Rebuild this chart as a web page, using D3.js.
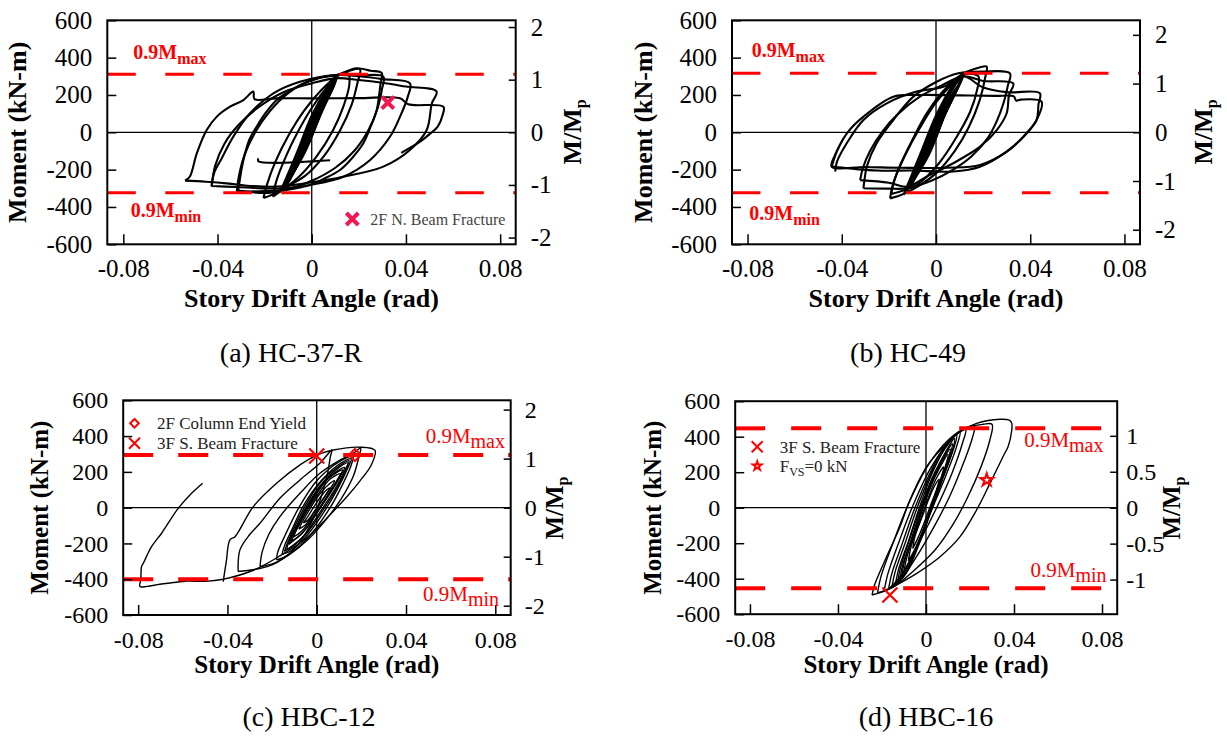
<!DOCTYPE html>
<html>
<head>
<meta charset="utf-8">
<script src="https://cdn.jsdelivr.net/npm/d3@7"></script>
<style>
  body { margin: 0; background: #fff; }
  svg { display: block; font-family: 'Liberation Serif', 'DejaVu Serif', serif; }
  svg text { font-family: 'Liberation Serif', 'DejaVu Serif', serif; }
</style>
</head>
<body>
<svg id="chart" width="1227" height="738"></svg>
<script>
// ---- data -------------------------------------------------------------
const driftTicks = [-0.08, -0.04, 0, 0.04, 0.08];
const driftLabels = ["-0.08", "-0.04", "0", "0.04", "0.08"];
const momentTicks = [-600, -400, -200, 0, 200, 400, 600];
const ratioTicks = [-2, -1, 0, 1, 2];
const ratioTicksD = [-1, -0.5, 0, 0.5, 1];
const captions = ["(a) HC-37-R", "(b) HC-49", "(c) HBC-12", "(d) HBC-16"];
const mpValues = [282, 261, 274, 405];      // kN-m for M/Mp = 1
const limitMax = [311, 316, 294, 447];      // 0.9Mmax (kN-m)
const limitMin = [-324, -324, -400, -454];  // 0.9Mmin (kN-m)

// hysteresis loops, [story drift angle (rad), moment (kN-m)]
const loopsA = [
  [[-0.0045,-120],[-0.003,-75],[0.0,15],[0.003,95],[0.0045,125],[0.003,80],[0.0,-10],[-0.003,-90],[-0.0045,-120]],
  [[-0.0065,-175],[-0.0045,-110],[-0.001,0],[0.003,110],[0.0065,185],[0.0045,125],[0.001,15],[-0.003,-100],[-0.0065,-175]],
  [[-0.007,-200],[-0.005,-140],[-0.002,-45],[0.002,70],[0.0075,215],[0.0055,150],[0.0015,35],[-0.0025,-80],[-0.007,-200]],
  [[-0.0085,-230],[-0.006,-150],[-0.002,-20],[0.003,125],[0.0085,240],[0.006,170],[0.002,50],[-0.003,-95],[-0.0085,-230]],
  [[-0.0095,-260],[-0.007,-175],[-0.0025,-35],[0.0025,115],[0.0095,280],[0.007,200],[0.0025,70],[-0.0035,-110],[-0.0095,-260]],
  [[-0.0105,-280],[-0.0075,-185],[-0.003,-40],[0.003,140],[0.0105,300],[0.008,225],[0.003,80],[-0.003,-100],[-0.0105,-280]],
  [[-0.012,-300],[-0.009,-210],[-0.004,-60],[0.002,120],[0.0106,307],[0.008,230],[0.003,90],[-0.004,-120],[-0.012,-300]],
  [[-0.0125,-312],[-0.0095,-220],[-0.005,-80],[0.001,100],[0.0065,230],[0.011,310],[0.0085,225],[0.004,100],[-0.003,-110],[-0.0125,-312]],
  [[-0.0115,-305],[-0.008,-200],[-0.003,-50],[0.003,130],[0.0095,290],[0.0075,215],[0.002,60],[-0.0045,-130],[-0.0115,-305]],
  [[-0.0135,-320],[-0.0105,-235],[-0.006,-100],[0.0,90],[0.006,225],[0.0108,305],[0.0095,250],[0.005,135],[-0.002,-70],[-0.0135,-320]],
  [[-0.0205,-352],[-0.019,-280],[-0.0155,-160],[-0.01,-20],[-0.003,120],[0.004,225],[0.0106,300],[0.016,330],[0.0205,338],[0.0195,270],[0.017,150],[0.012,10],[0.005,-130],[-0.003,-235],[-0.012,-300],[-0.017,-335],[-0.0205,-352]],
  [[-0.0165,-345],[-0.015,-260],[-0.011,-130],[-0.006,0],[0.0,130],[0.006,235],[0.0106,300],[0.0155,315],[0.016,260],[0.0135,140],[0.009,10],[0.002,-130],[-0.006,-245],[-0.0165,-345]],
  [[-0.0312,-312],[-0.0305,-250],[-0.029,-148],[-0.0265,-40],[-0.0234,30],[-0.0195,105],[-0.0149,173],[-0.01,215],[-0.005,253],[0.003,290],[0.0106,307],[0.019,343],[0.025,330],[0.0297,318],[0.0292,260],[0.0276,120],[0.025,30],[0.0219,-59],[0.017,-140],[0.012,-202],[0.005,-250],[-0.0007,-282],[-0.0106,-309],[-0.02,-325],[-0.0312,-312]],
  [[-0.0318,-318],[-0.031,-240],[-0.0285,-120],[-0.024,0],[-0.018,110],[-0.01,210],[0.0,280],[0.0106,307],[0.02,305],[0.0304,298],[0.0298,230],[0.028,130],[0.024,10],[0.018,-100],[0.01,-190],[0.0,-260],[-0.0106,-305],[-0.02,-315],[-0.0318,-318]],
  [[-0.0425,-291],[-0.0415,-220],[-0.0382,-139],[-0.0333,-23],[-0.0262,102],[-0.0163,209],[-0.005,271],[0.0106,307],[0.02,300],[0.03,285],[0.0417,262],[0.0408,191],[0.0375,84],[0.0332,-24],[0.0248,-148],[0.0134,-238],[-0.0007,-282],[-0.012,-300],[-0.022,-300],[-0.032,-293],[-0.0425,-288]],
  [[-0.0425,-288],[-0.041,-180],[-0.037,-60],[-0.031,40],[-0.022,140],[-0.012,215],[0.0,262],[0.0106,290],[0.02,280],[0.03,265],[0.04,245],[0.053,218],[0.051,155],[0.0488,12],[0.0417,-95],[0.0304,-184],[0.0134,-238],[0.0,-268],[-0.0149,-291],[-0.025,-288],[-0.035,-275],[-0.045,-265],[-0.0538,-259]],
  [[-0.0538,-259],[-0.0518,-238],[-0.0488,-113],[-0.0446,12],[-0.0403,84],[-0.0347,137],[-0.029,173],[-0.0248,218],[-0.0243,178],[-0.015,182],[0.0,182],[0.02,183],[0.0375,182],[0.041,150],[0.0559,137],[0.0555,90],[0.0535,30],[0.0505,-5],[0.046,-50],[0.038,-110]],
  [[0.0078,-150],[-0.0227,-155],[-0.0227,-140]]
];

const loopsB = [
  [[-0.0045,-125],[-0.003,-80],[0.0,10],[0.003,95],[0.0045,125],[0.003,80],[0.0,-15],[-0.003,-95],[-0.0045,-125]],
  [[-0.007,-190],[-0.005,-125],[-0.001,-5],[0.003,110],[0.0068,185],[0.0045,125],[0.001,20],[-0.003,-105],[-0.007,-190]],
  [[-0.0082,-225],[-0.006,-150],[-0.0025,-45],[0.002,90],[0.0078,215],[0.0058,155],[0.0015,40],[-0.003,-95],[-0.0082,-225]],
  [[-0.0095,-255],[-0.007,-175],[-0.002,-30],[0.003,120],[0.009,245],[0.0065,175],[0.002,50],[-0.003,-110],[-0.0095,-255]],
  [[-0.0125,-315],[-0.009,-215],[-0.004,-60],[0.002,120],[0.0116,316],[0.009,235],[0.003,85],[-0.004,-130],[-0.0125,-315]],
  [[-0.0132,-327],[-0.01,-230],[-0.005,-80],[0.001,100],[0.0065,230],[0.0116,316],[0.009,230],[0.004,100],[-0.003,-120],[-0.0132,-327]],
  [[-0.011,-300],[-0.008,-200],[-0.003,-50],[0.003,140],[0.0105,300],[0.0085,220],[0.002,50],[-0.005,-140],[-0.011,-300]],
  [[-0.0138,-335],[-0.011,-250],[-0.0065,-110],[0.0,90],[0.0065,240],[0.012,318],[0.01,255],[0.005,130],[-0.002,-80],[-0.0138,-335]],
  [[-0.0195,-354],[-0.0185,-290],[-0.015,-170],[-0.01,-40],[-0.004,100],[0.003,220],[0.0116,316],[0.0165,340],[0.0215,352],[0.021,300],[0.0185,170],[0.014,30],[0.008,-100],[0.0,-220],[-0.0132,-327],[-0.0195,-354]],
  [[-0.019,-330],[-0.0175,-250],[-0.013,-120],[-0.007,20],[0.0,160],[0.007,260],[0.0116,310],[0.018,300],[0.0175,230],[0.0145,110],[0.009,-20],[0.001,-170],[-0.008,-280],[-0.019,-330]],
  [[-0.0308,-300],[-0.0303,-250],[-0.0294,-184],[-0.0252,-59],[-0.0181,66],[-0.0096,191],[0.0003,271],[0.0095,316],[0.02,325],[0.0314,316],[0.0305,250],[0.0285,150],[0.0258,60],[0.022,-30],[0.015,-130],[0.0073,-200],[-0.002,-260],[-0.0124,-300],[-0.02,-302],[-0.0308,-300]],
  [[-0.0322,-256],[-0.031,-190],[-0.028,-100],[-0.023,0],[-0.016,100],[-0.007,190],[0.003,255],[0.0116,300],[0.02,275],[0.0328,262],[0.031,200],[0.03,102],[0.0258,12],[0.0187,-77],[0.0073,-166],[-0.004,-238],[-0.0124,-292],[-0.02,-270],[-0.0322,-256]],
  [[-0.0428,-211],[-0.0421,-160],[-0.0379,-59],[-0.0308,66],[-0.0209,155],[-0.0082,218],[0.0031,244],[0.0116,300],[0.02,240],[0.03,215],[0.0441,209],[0.0435,150],[0.0427,66],[0.0385,-5],[0.03,-104],[0.0187,-184],[0.0073,-210],[-0.01,-205],[-0.025,-205],[-0.0443,-184]],
  [[-0.0443,-184],[-0.042,-100],[-0.0375,0],[-0.0308,84],[-0.0181,191],[-0.0068,200],[0.01,198],[0.025,195],[0.033,192],[0.034,170],[0.036,175],[0.0448,164],[0.0427,66],[0.0385,-5],[0.03,-104],[0.0187,-175],[0.005,-190],[-0.015,-190],[-0.03,-186],[-0.0443,-184],[-0.0428,-120],[-0.0393,-32]]
];

const loopsC = [
  [[-0.006,-85],[-0.004,-50],[-0.001,10],[0.002,65],[0.0045,100],[0.006,110],[0.0045,80],[0.002,35],[-0.001,-20],[-0.004,-70],[-0.006,-85]],
  [[-0.008,-120],[-0.0065,-80],[-0.003,-5],[0.001,70],[0.005,125],[0.008,150],[0.0065,115],[0.003,50],[-0.001,-25],[-0.005,-95],[-0.008,-120]],
  [[-0.0105,-165],[-0.009,-120],[-0.005,-30],[0.0,65],[0.006,160],[0.0105,190],[0.009,150],[0.004,50],[-0.001,-40],[-0.007,-135],[-0.0105,-165]],
  [[-0.0115,-190],[-0.0095,-135],[-0.006,-50],[-0.001,60],[0.005,160],[0.0115,210],[0.01,170],[0.005,70],[-0.001,-50],[-0.007,-150],[-0.0115,-190]],
  [[-0.0125,-205],[-0.011,-160],[-0.007,-60],[-0.002,50],[0.005,165],[0.0125,225],[0.011,185],[0.006,80],[0.0,-30],[-0.006,-135],[-0.0125,-205]],
  [[-0.0135,-236],[-0.0125,-190],[-0.009,-100],[-0.004,20],[0.003,145],[0.01,225],[0.014,250],[0.0125,205],[0.008,100],[0.002,-15],[-0.005,-145],[-0.011,-220],[-0.0135,-236]],
  [[-0.0145,-245],[-0.013,-195],[-0.0095,-95],[-0.004,35],[0.003,160],[0.0145,262],[0.013,215],[0.009,110],[0.003,-10],[-0.005,-150],[-0.0145,-245]],
  [[-0.0155,-260],[-0.0145,-215],[-0.011,-120],[-0.006,10],[0.002,150],[0.011,250],[0.0155,272],[0.014,225],[0.01,120],[0.004,-10],[-0.004,-150],[-0.012,-245],[-0.0155,-260]],
  [[-0.018,-292],[-0.0175,-250],[-0.014,-150],[-0.008,0],[0.0,150],[0.008,240],[0.0135,280],[0.0164,290],[0.0155,240],[0.012,140],[0.006,0],[-0.002,-140],[-0.01,-240],[-0.015,-280],[-0.018,-292]],
  [[-0.0254,-330],[-0.0245,-250],[-0.0215,-150],[-0.0165,-50],[-0.0075,80],[0.0014,192],[0.0104,266],[0.0164,304],[0.0197,332],[0.019,290],[0.0165,180],[0.011,50],[0.004,-70],[-0.004,-180],[-0.012,-260],[-0.019,-310],[-0.0254,-330]],
  [[-0.0352,-357],[-0.0344,-236],[-0.03,-150],[-0.0254,-87],[-0.0165,53],[-0.0075,155],[0.0014,248],[0.0068,322],[0.0061,285],[0.005,200],[0.002,60],[-0.003,-100],[-0.01,-230],[-0.02,-320],[-0.0352,-357]],
  [[-0.0419,-413],[-0.0405,-300],[-0.0389,-180],[-0.0366,-162],[-0.0284,6],[-0.018,136],[-0.0075,239],[0.0,294],[0.0074,322],[0.0194,338],[0.0261,320],[0.0245,240],[0.0194,150],[0.0134,60],[0.0044,-60],[-0.0045,-170],[-0.0165,-270],[-0.0284,-350],[-0.0419,-400],[-0.05,-412],[-0.058,-410],[-0.065,-420],[-0.0703,-428],[-0.076,-440],[-0.0792,-441],[-0.0788,-400],[-0.0785,-330],[-0.0777,-311],[-0.074,-218],[-0.0695,-143],[-0.062,-3],[-0.0568,71],[-0.0511,136]]
];

const loopsD = [
  [[-0.006,-230],[-0.005,-160],[-0.002,-60],[0.001,40],[0.004,125],[0.006,160],[0.005,110],[0.002,10],[-0.001,-90],[-0.004,-180],[-0.006,-230]],
  [[-0.008,-300],[-0.0068,-220],[-0.0035,-100],[0.0,20],[0.0045,160],[0.008,230],[0.0068,165],[0.0035,50],[0.0,-80],[-0.0045,-220],[-0.008,-300]],
  [[-0.010,-360],[-0.0085,-270],[-0.005,-140],[-0.001,10],[0.004,170],[0.010,300],[0.0085,220],[0.005,100],[0.001,-50],[-0.004,-210],[-0.010,-360]],
  [[-0.011,-385],[-0.0095,-290],[-0.0055,-150],[-0.0015,5],[0.004,180],[0.011,330],[0.0095,250],[0.0055,120],[0.0015,-40],[-0.004,-215],[-0.011,-385]],
  [[-0.012,-410],[-0.0105,-320],[-0.0065,-170],[-0.002,0],[0.004,190],[0.012,360],[0.0105,280],[0.0065,140],[0.002,-20],[-0.004,-220],[-0.012,-410]],
  [[-0.013,-425],[-0.0115,-335],[-0.0075,-180],[-0.0025,0],[0.004,200],[0.013,390],[0.0115,300],[0.0075,160],[0.0025,-10],[-0.0035,-210],[-0.013,-425]],
  [[-0.014,-440],[-0.0125,-350],[-0.008,-190],[-0.003,0],[0.003,200],[0.009,340],[0.014,410],[0.0125,330],[0.008,180],[0.003,10],[-0.003,-200],[-0.009,-370],[-0.014,-440]],
  [[-0.0155,-450],[-0.014,-360],[-0.0095,-200],[-0.004,0],[0.003,210],[0.01,360],[0.0155,430],[0.0138,340],[0.009,180],[0.003,0],[-0.004,-220],[-0.01,-380],[-0.0155,-450]],
  [[-0.017,-460],[-0.0155,-370],[-0.011,-210],[-0.005,0],[0.002,200],[0.01,370],[0.018,440],[0.0165,360],[0.012,200],[0.006,30],[-0.002,-170],[-0.01,-360],[-0.017,-460]],
  [[-0.019,-470],[-0.0175,-380],[-0.0125,-200],[-0.006,10],[0.002,220],[0.011,380],[0.017,440],[0.022,460],[0.021,390],[0.017,250],[0.011,70],[0.004,-100],[-0.004,-270],[-0.012,-410],[-0.019,-470]],
  [[-0.022,-480],[-0.0205,-390],[-0.015,-200],[-0.008,20],[0.001,240],[0.01,380],[0.018,450],[0.026,470],[0.03,470],[0.029,380],[0.025,230],[0.019,60],[0.012,-100],[0.004,-240],[-0.006,-360],[-0.014,-440],[-0.022,-480]],
  [[-0.0245,-492],[-0.0235,-440],[-0.0179,-276],[-0.0118,-107],[-0.0073,43],[0.0003,231],[0.0079,344],[0.0155,428],[0.023,475],[0.0336,498],[0.038,492],[0.039,475],[0.039,438],[0.0373,344],[0.0355,300],[0.0291,137],[0.023,-13],[0.0155,-163],[0.0064,-276],[-0.0042,-370],[-0.0133,-435],[-0.0194,-473],[-0.0245,-492]]
];

// event markers in the plots
const markersA = [{kind: "x", drift: 0.0323, moment: 159}];
const markersC = [{kind: "x", drift: 0.0, moment: 289}, {kind: "diamond", drift: 0.0171, moment: 294}];
const markersD = [{kind: "x", drift: -0.0164, moment: -492}, {kind: "star", drift: 0.0276, moment: 156}];

const legendA = [{kind: "x", label: "2F N. Beam Fracture"}];
const legendC = [{kind: "diamond", label: "2F Column End Yield"}, {kind: "x", label: "3F S. Beam Fracture"}];
const legendD = [{kind: "x", label: "3F S. Beam Fracture"}, {kind: "star", label: "F", sub: "VS", rest: "=0 kN"}];

// ---- layout -----------------------------------------------------------
const FONT = "Liberation Serif, DejaVu Serif, serif";
const RED = "#ff0000";

const panels = [
  { box: [107.3, 20.3, 515.7, 244.3], xdom: [-0.0868, 0.0866], rticks: ratioTicks,
    loops: loopsA, markers: markersA, legend: legendA, legendPos: [352.3, 219, 20], mcolor: "#f2174f",
    tick: 25, title: 26, lw: 2.1, dash: "28.5,29.5", dashW: 3, boldLimit: true,
    maxLab: [133.3, 59.3, "start"], minLab: [130.7, 216.7, "start"],
    ytitle: [26, 132.3], xtitle: [311.5, 307], rtitle: [581, 132], rpad: 15, bpad: 15, cap: [291, 362] },
  { box: [732, 20.3, 1140, 244.3], xdom: [-0.0866, 0.0866], rticks: ratioTicks,
    loops: loopsB, markers: [], legend: [], mcolor: RED,
    tick: 25, title: 26, lw: 2.1, dash: "28.5,29.5", dashW: 3, boldLimit: true,
    maxLab: [751.7, 56.7, "start"], minLab: [749.3, 220, "start"],
    ytitle: [652, 132.3], xtitle: [936, 307], rtitle: [1212, 132], rpad: 15, bpad: 15, cap: [908, 362] },
  { box: [123.2, 400.3, 510.7, 615], xdom: [-0.0867, 0.0869], rticks: ratioTicks,
    loops: loopsC, markers: markersC, legend: legendC, legendPos: [134.5, 423.3, 20], mcolor: RED,
    tick: 24, title: 25, lw: 1.4, dash: "30,25", dashW: 4, boldLimit: false,
    maxLab: [505, 443.3, "end"], minLab: [499, 600.7, "end"],
    ytitle: [48, 507.7], xtitle: [316.8, 673], rtitle: [563, 508], rpad: 14, bpad: 16, cap: [309, 726] },
  { box: [735.2, 401.2, 1117.2, 614.2], xdom: [-0.0867, 0.0869], rticks: ratioTicksD,
    loops: loopsD, markers: markersD, legend: legendD, legendPos: [757.2, 446.7, 19.3], mcolor: RED,
    tick: 24, title: 25, lw: 1.4, dash: "30,26", dashW: 4, boldLimit: false,
    maxLab: [1103.5, 446.7, "end"], minLab: [1106.5, 576.7, "end"],
    ytitle: [661, 507.7], xtitle: [926, 673], rtitle: [1180, 508], rpad: 9, bpad: 16, cap: [926, 726] }
];

const svg = d3.select("#chart").attr("font-family", FONT);

function drawMarker(g, kind, cx, cy, s, color, sw) {
  if (kind === "x") {
    g.append("path")
      .attr("d", `M${cx - s},${cy - s}L${cx + s},${cy + s}M${cx - s},${cy + s}L${cx + s},${cy - s}`)
      .attr("stroke", color).attr("stroke-width", sw).attr("fill", "none");
  } else if (kind === "diamond") {
    g.append("path")
      .attr("transform", `translate(${cx},${cy}) rotate(45)`)
      .attr("d", d3.symbol(d3.symbolSquare, s * s * 2)())
      .attr("stroke", color).attr("stroke-width", sw).attr("fill", "none");
  } else {
    g.append("path")
      .attr("transform", `translate(${cx},${cy})`)
      .attr("d", d3.symbol(d3.symbolStar, s * s * 1.3)())
      .attr("stroke", color).attr("stroke-width", sw).attr("fill", "none");
  }
}

panels.forEach((p, i) => {
  const [x0, y0, x1, y1] = p.box;
  const g = svg.append("g");

  const x = d3.scaleLinear().domain(p.xdom).range([x0, x1]);
  const y = d3.scaleLinear().domain([-600, 600]).range([y1, y0]);
  const r = d3.scaleLinear().domain([-600 / mpValues[i], 600 / mpValues[i]]).range([y1, y0]);

  // zero lines
  g.append("line").attr("x1", x(0)).attr("x2", x(0)).attr("y1", y0).attr("y2", y1)
    .attr("stroke", "#000").attr("stroke-width", 1.3);
  g.append("line").attr("x1", x0).attr("x2", x1).attr("y1", y(0)).attr("y2", y(0))
    .attr("stroke", "#000").attr("stroke-width", 1.3);

  // hysteresis loops
  const line = d3.line()
    .x(d => x(d[0]))
    .y(d => y(d[1]))
    .curve(d3.curveCatmullRom.alpha(0.5));
  g.append("g").selectAll("path")
    .data(p.loops)
    .join("path")
    .attr("d", line)
    .attr("fill", "none")
    .attr("stroke", "#000")
    .attr("stroke-width", p.lw)
    .attr("stroke-linejoin", "round");

  // 0.9Mmax / 0.9Mmin
  [limitMax[i], limitMin[i]].forEach(v => {
    g.append("line").attr("x1", x0).attr("x2", x1).attr("y1", y(v)).attr("y2", y(v))
      .attr("stroke", RED).attr("stroke-width", p.dashW).attr("stroke-dasharray", p.dash);
  });

  // axes
  const styleAxis = (sel, fs) => {
    sel.attr("font-family", FONT).attr("font-size", fs);
    sel.select(".domain").remove();
    sel.selectAll(".tick line").attr("stroke", "#000").attr("stroke-width", 1.5);
    sel.selectAll(".tick text").attr("fill", "#000");
  };
  g.append("g").attr("transform", `translate(${x0},0)`)
    .call(d3.axisLeft(y).tickValues(momentTicks).tickSize(-9).tickPadding(15).tickFormat(d => String(d)))
    .call(s => styleAxis(s, p.tick));
  g.append("g").attr("transform", `translate(${x1},0)`)
    .call(d3.axisRight(r).tickValues(p.rticks).tickSize(-7).tickPadding(p.rpad).tickFormat(d => String(d)))
    .call(s => styleAxis(s, p.tick));
  g.append("g").attr("transform", `translate(0,${y1})`)
    .call(d3.axisBottom(x).tickValues(driftTicks).tickSize(-10).tickPadding(p.bpad).tickFormat((d, k) => driftLabels[k]))
    .call(s => styleAxis(s, p.tick));

  // frame
  g.append("rect").attr("x", x0).attr("y", y0).attr("width", x1 - x0).attr("height", y1 - y0)
    .attr("fill", "none").attr("stroke", "#000").attr("stroke-width", 2);

  // limit labels
  const limitText = (pos, sub) => {
    const t = g.append("text").attr("x", pos[0]).attr("y", pos[1])
      .attr("text-anchor", pos[2]).attr("fill", RED)
      .attr("font-size", p.boldLimit ? 20 : 21)
      .attr("font-weight", p.boldLimit ? "bold" : "normal");
    t.append("tspan").text("0.9M");
    t.append("tspan").attr("dy", 5).attr("font-size", p.boldLimit ? 16 : 20).text(sub);
  };
  limitText(p.maxLab, "max");
  limitText(p.minLab, "min");

  // markers in the plot
  p.markers.forEach(m => {
    const big = p.boldLimit;
    drawMarker(g, m.kind, x(m.drift), y(m.moment),
      m.kind === "x" ? (big ? 6 : 7.5) : 6, p.mcolor, big ? 4 : 2.2);
  });

  // legend
  if (p.legend.length) {
    const [lx, ly, step] = p.legendPos;
    p.legend.forEach((e, k) => {
      const cy = ly + k * step;
      const big = p.boldLimit;
      drawMarker(g, e.kind, lx, cy, e.kind === "x" ? (big ? 6 : 5.5) : 4.3, p.mcolor, big ? 4 : 2);
      const t = g.append("text").attr("x", lx + (big ? 18 : 22.5)).attr("y", cy)
        .attr("dy", "0.35em").attr("font-size", big ? 16 : 17).attr("fill", big ? "#444" : "#222");
      t.append("tspan").text(e.label);
      if (e.sub) {
        t.append("tspan").attr("dy", 4).attr("font-size", 12).text(e.sub);
        t.append("tspan").attr("dy", -4).text(e.rest);
      }
    });
  }

  // axis titles
  g.append("text")
    .attr("transform", `translate(${p.ytitle[0]},${p.ytitle[1]}) rotate(-90)`)
    .attr("text-anchor", "middle").attr("font-weight", "bold").attr("font-size", p.title)
    .text("Moment (kN-m)");
  g.append("text")
    .attr("x", p.xtitle[0]).attr("y", p.xtitle[1])
    .attr("text-anchor", "middle").attr("font-weight", "bold").attr("font-size", p.title)
    .text("Story Drift Angle (rad)");
  const rt = g.append("text")
    .attr("transform", `translate(${p.rtitle[0]},${p.rtitle[1]}) rotate(-90)`)
    .attr("text-anchor", "middle").attr("font-weight", "bold").attr("font-size", p.title);
  rt.append("tspan").text("M/M");
  rt.append("tspan").attr("dy", 5).attr("font-size", 16).text("p");

  // caption
  svg.append("text")
    .attr("x", p.cap[0]).attr("y", p.cap[1])
    .attr("text-anchor", "middle").attr("font-size", 28)
    .text(captions[i]);
});
</script>
</body>
</html>
